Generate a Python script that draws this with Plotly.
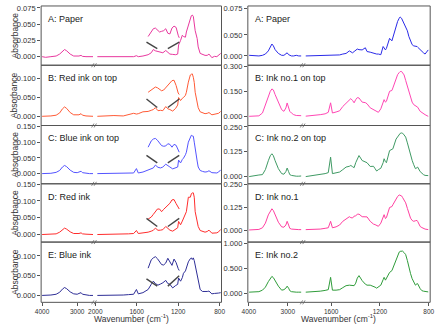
import plotly.graph_objects as go

W, H = 441, 330
FONT = "Liberation Sans, Arial, sans-serif"

# ---------------- data ----------------
# Left column, high-wavenumber segment
left_hi_wn = [4000, 3900, 3750, 3600, 3500, 3420, 3360, 3300, 3200, 3100, 3000, 2950, 2890, 2850, 2750, 2650, 2550]
left_a_hi = [0, -0.001, 0, 0.001, 0.004, 0.009, 0.011, 0.009, 0.004, 0.001, 0.0005, 0.001, 0.002, 0.0005, 0, -0.0005, 0]
left_b_hi = [0, 0, 0.001, 0.003, 0.009, 0.02, 0.025, 0.021, 0.01, 0.004, 0.003, 0.004, 0.007, 0.003, 0.001, 0, 0]
left_c_hi = [0, 0, 0.001, 0.004, 0.01, 0.021, 0.026, 0.022, 0.011, 0.004, 0.003, 0.005, 0.0075, 0.003, 0.001, 0, 0]
left_d_hi = [0, 0, 0.001, 0.002, 0.007, 0.015, 0.019, 0.016, 0.008, 0.003, 0.002, 0.003, 0.005, 0.002, 0.001, 0, 0]
left_e_hi = [0, 0, 0.001, 0.003, 0.008, 0.016, 0.02, 0.017, 0.009, 0.004, 0.003, 0.005, 0.007, 0.003, 0.001, 0, 0]

# Left column, low-wavenumber segment
left_lo_wn = [1980, 1900, 1820, 1730, 1680, 1630, 1603, 1585, 1540, 1490, 1460, 1440, 1420, 1395, 1370, 1348,
              1320, 1300, 1280, 1253, 1225, 1205, 1196, 1177, 1160, 1149, 1130, 1121, 1102, 1083, 1073, 1064,
              1054, 1045, 1036, 1017, 1007, 988, 965, 941, 920, 903, 875, 850, 827, 810, 790]
left_a_lo = [0, 0, 0.0005, 0, 0.0005, 0, 0.0015, 0, 0.001, 0.003, 0.006, 0.011, 0.009, 0.008, 0.007, 0.006,
             0.0095, 0.006, 0.004, 0.0035, 0.003, 0.004, 0.018, 0.025, 0.033, 0.031, 0.030, 0.038, 0.050, 0.058,
             0.063, 0.064, 0.062, 0.052, 0.040, 0.028, 0.015, 0.005, 0.003, 0.002, 0.002, 0.004, -0.0015, 0.0005,
             0, 0.002, 0.005]
left_b_lo = [0, 0.001, 0.002, 0.001, 0.004, 0.008, 0.006, 0.007, 0.012, 0.013, 0.016, 0.018, 0.023, 0.015, 0.016,
             0.015, 0.026, 0.02, 0.018, 0.014, 0.021, 0.03, 0.05, 0.042, 0.048, 0.05, 0.056, 0.064, 0.091, 0.11,
             0.112, 0.113, 0.104, 0.09, 0.064, 0.04, 0.023, 0.012, 0.009, 0.007, 0.008, 0.01, 0.004, 0.005, 0.006,
             0.008, 0.013]
left_c_lo = [0, 0, 0.001, 0.001, 0.002, 0.002, 0.016, 0.002, 0.005, 0.011, 0.015, 0.018, 0.027, 0.02, 0.018, 0.021,
             0.03, 0.024, 0.021, 0.015, 0.018, 0.021, 0.043, 0.034, 0.045, 0.049, 0.06, 0.068, 0.1, 0.115, 0.122,
             0.12, 0.119, 0.1, 0.075, 0.04, 0.021, 0.01, 0.007, 0.005, 0.006, 0.009, 0.003, 0.002, 0.002, 0.005,
             0.012]
left_d_lo = [0, 0, 0.001, 0.001, 0.002, 0.003, 0.012, 0.003, 0.004, 0.007, 0.01, 0.0125, 0.019, 0.0125, 0.013,
             0.0145, 0.024, 0.018, 0.013, 0.01, 0.015, 0.02, 0.039, 0.029, 0.04, 0.047, 0.058, 0.068, 0.111, 0.111,
             0.121, 0.124, 0.124, 0.111, 0.068, 0.04, 0.024, 0.012, 0.009, 0.007, 0.009, 0.013, 0.004, 0.005, 0.005,
             0.008, 0.015]
left_e_lo = [0, 0, 0.001, 0.001, 0.002, 0.003, 0.015, 0.004, 0.007, 0.015, 0.028, 0.036, 0.03, 0.026, 0.029, 0.032,
             0.038, 0.03, 0.028, 0.019, 0.025, 0.028, 0.044, 0.036, 0.045, 0.056, 0.062, 0.069, 0.085, 0.093, 0.095,
             0.091, 0.095, 0.088, 0.077, 0.05, 0.036, 0.015, 0.01, 0.009, 0.01, 0.011, 0.004, 0.005, 0.005, 0.006,
             0.007]

# Left column, magnified insets (1490-1190 cm-1) drawn above each spectrum
inset_wn = [1490, 1460, 1440, 1420, 1400, 1380, 1360, 1340, 1320, 1300, 1280, 1260, 1240, 1220, 1200, 1190]
inset_a = [0.031, 0.039, 0.043, 0.044, 0.041, 0.038, 0.039, 0.040, 0.043, 0.036, 0.035, 0.044, 0.047, 0.045, 0.033, 0.029]
inset_b = [0.064, 0.071, 0.075, 0.078, 0.076, 0.071, 0.068, 0.070, 0.077, 0.083, 0.090, 0.095, 0.096, 0.082, 0.062, 0.058]
inset_c = [0.084, 0.104, 0.110, 0.112, 0.106, 0.097, 0.089, 0.087, 0.088, 0.095, 0.093, 0.084, 0.093, 0.090, 0.076, 0.068]
inset_d = [0.046, 0.052, 0.060, 0.068, 0.076, 0.076, 0.068, 0.075, 0.081, 0.087, 0.093, 0.103, 0.104, 0.092, 0.080, 0.076]
inset_e = [0.069, 0.090, 0.095, 0.098, 0.093, 0.085, 0.078, 0.077, 0.082, 0.094, 0.083, 0.076, 0.092, 0.083, 0.068, 0.063]

# Connector marks (outer-high to inner-low, both sides of each inset)
conn_wn = [1506, 1402, None, 1300, 1190]
conn_a = [0.0225, 0.0123, None, 0.0123, 0.0225]
conn_b = [0.046, 0.0235, None, 0.0235, 0.046]
conn_c = [0.058, 0.034, None, 0.034, 0.058]
conn_d = [0.048, 0.024, None, 0.024, 0.048]
conn_e = [0.042, 0.0235, None, 0.0235, 0.050]

# Right column, high-wavenumber segment
right_hi_wn = [3992, 3900, 3800, 3742, 3650, 3575, 3500, 3450, 3408, 3370, 3325, 3242, 3158, 3100, 3050, 3017,
               2980, 2950, 2908, 2850, 2783, 2720, 2658]
right_a_hi = [0.001, 0.0005, 0.001, 0, 0.001, 0.003, 0.008, 0.014, 0.019, 0.016, 0.01, 0.004, 0.001, 0.001, 0.003,
              0.005, 0.002, 0.001, 0, 0, 0.001, 0, 0]
right_b_hi = [0, 0, 0.002, 0.003, 0.02, 0.069, 0.125, 0.15, 0.164, 0.158, 0.13, 0.08, 0.04, 0.03, 0.05, 0.08, 0.055,
              0.03, 0.02, 0.01, 0.005, 0.004, 0.004]
right_c_hi = [0, 0.002, 0.003, 0.008, 0.01, 0.035, 0.08, 0.105, 0.115, 0.105, 0.08, 0.04, 0.015, 0.012, 0.025, 0.043,
              0.025, 0.01, 0.006, 0.003, 0.002, 0.002, 0.003]
right_d_hi = [0.003, 0.004, 0.005, 0.006, 0.015, 0.04, 0.085, 0.108, 0.118, 0.108, 0.085, 0.045, 0.02, 0.018, 0.03,
              0.05, 0.03, 0.012, 0.008, 0.006, 0.005, 0.005, 0.005]
right_e_hi = [0.02, 0.02, 0.025, 0.03, 0.06, 0.12, 0.23, 0.3, 0.335, 0.31, 0.24, 0.14, 0.06, 0.07, 0.1, 0.14, 0.1,
              0.05, 0.03, 0.02, 0.02, 0.02, 0.02]

# Right column, low-wavenumber segment
right_lo_wn = [1809, 1750, 1690, 1650, 1624, 1605, 1590, 1560, 1531, 1505, 1478, 1451, 1439, 1425, 1412, 1399, 1386,
               1372, 1346, 1320, 1306, 1280, 1266, 1253, 1240, 1227, 1213, 1193, 1174, 1166, 1155, 1147, 1121, 1102,
               1094, 1068, 1055, 1042, 1034, 1023, 1015, 1002, 989, 975, 963, 949, 936, 923, 909, 896, 891, 870, 856,
               843, 830, 804]
right_a_lo = [0, 0.0005, 0.001, 0.0005, 0.001, 0.0016, 0.001, 0.001, 0.0016, 0.003, 0.004, 0.008, 0.007, 0.005, 0.007,
              0.009, 0.011, 0.01, 0.0096, 0.013, 0.007, 0.006, 0.005, 0.004, 0.004, 0.003, 0.003, 0.002, 0.015, 0.012,
              0.0096, 0.012, 0.028, 0.024, 0.03, 0.047, 0.055, 0.06, 0.062, 0.06, 0.057, 0.052, 0.047, 0.04, 0.031,
              0.024, 0.018, 0.016, 0.016, 0.015, 0.014, 0.0096, 0.007, 0.005, 0.003, 0.0096]
right_b_lo = [0.001, 0.004, 0.01, 0.015, 0.024, 0.081, 0.02, 0.026, 0.033, 0.059, 0.08, 0.095, 0.106, 0.095, 0.081,
              0.1, 0.112, 0.11, 0.085, 0.082, 0.075, 0.051, 0.045, 0.04, 0.033, 0.028, 0.024, 0.045, 0.08, 0.1, 0.085,
              0.09, 0.15, 0.155, 0.17, 0.219, 0.25, 0.262, 0.268, 0.269, 0.26, 0.248, 0.215, 0.18, 0.145, 0.108,
              0.085, 0.07, 0.065, 0.059, 0.055, 0.03, 0.022, 0.02, 0.01, 0.0]
right_c_lo = [0, 0.005, 0.01, 0.015, 0.02, 0.098, 0.015, 0.018, 0.023, 0.035, 0.048, 0.052, 0.056, 0.05, 0.045, 0.07,
              0.09, 0.106, 0.081, 0.075, 0.07, 0.051, 0.05, 0.052, 0.04, 0.028, 0.035, 0.042, 0.07, 0.09, 0.075, 0.07,
              0.131, 0.135, 0.14, 0.189, 0.2, 0.214, 0.218, 0.22, 0.219, 0.21, 0.199, 0.17, 0.139, 0.11, 0.082, 0.06,
              0.04, 0.045, 0.048, 0.025, 0.015, 0.01, 0.006, 0.005]
right_d_lo = [0.005, 0.006, 0.008, 0.012, 0.015, 0.05, 0.015, 0.02, 0.03, 0.05, 0.065, 0.075, 0.07, 0.068, 0.078,
              0.08, 0.088, 0.089, 0.075, 0.076, 0.074, 0.05, 0.04, 0.035, 0.032, 0.028, 0.023, 0.04, 0.07, 0.086,
              0.065, 0.07, 0.125, 0.13, 0.14, 0.174, 0.185, 0.193, 0.19, 0.188, 0.18, 0.168, 0.15, 0.12, 0.095, 0.067,
              0.055, 0.05, 0.053, 0.055, 0.05, 0.022, 0.016, 0.012, 0.008, 0.005]
right_e_lo = [0.02, 0.025, 0.04, 0.055, 0.07, 0.316, 0.06, 0.06, 0.07, 0.11, 0.15, 0.16, 0.16, 0.15, 0.15, 0.2, 0.3,
              0.35, 0.25, 0.18, 0.16, 0.16, 0.15, 0.14, 0.12, 0.1, 0.12, 0.16, 0.27, 0.316, 0.26, 0.3, 0.414, 0.45,
              0.5, 0.678, 0.76, 0.82, 0.835, 0.84, 0.84, 0.81, 0.77, 0.65, 0.51, 0.39, 0.29, 0.21, 0.16, 0.19, 0.19,
              0.09, 0.05, 0.04, 0.03, 0.025]

left_labels = ["A: Paper", "B: Red ink on top", "C: Blue ink on top", "D: Red ink", "E: Blue ink"]
right_labels = ["A: Paper", "B: Ink no.1 on top", "C: Ink no.2 on top", "D: Ink no.1", "E: Ink no.2"]

left_ytick_vals = [[0, 0.025, 0.05, 0.075], [0, 0.05, 0.1], [0, 0.05, 0.1, 0.15], [0, 0.05, 0.1, 0.15], [0, 0.05, 0.1]]
left_ytick_text = [["0.000", "0.025", "0.050", "0.075"], ["0.000", "0.050", "0.100"],
                   ["0.000", "0.050", "0.100", "0.150"], ["0.000", "0.050", "0.100", "0.150"],
                   ["0.000", "0.050", "0.100"]]
right_ytick_vals = [[0, 0.0335, 0.075], [0, 0.15, 0.3], [0, 0.125, 0.25], [0, 0.125, 0.25], [0, 0.5, 1.0]]
right_ytick_text = [["0.000", "0.050", "0.075"], ["0.000", "0.150", "0.300"], ["0.000", "0.125", "0.250"],
                    ["0.000", "0.125", "0.250"], ["0.000", "0.500", "1.000"]]

left_xticks_hi = [4000, 3000]
left_xticks_lo = [2000, 1600, 1200, 800]
right_xticks_hi = [4000, 3000]
right_xticks_lo = [1600, 1200, 800]

# ---------------- styling / layout ----------------
left_colors = ["#e8389e", "#ff5a36", "#5454ff", "#ff2d2d", "#2e2e96"]
right_colors = ["#2a2ae8", "#ff46b4", "#3f9a64", "#ff3fa0", "#2f9c3a"]
conn_color = "#454545"
frame_color = "#555555"

rows_px = [(2, 62), (62, 123), (123, 182), (182, 241), (241, 302)]
cols = [
    dict(hi_px=(35, 89), lo_px=(90, 220), hi_range=[4028, 2528], lo_range=[2005, 782],
         yranges=[[-0.0132, 0.078], [-0.0245, 0.136], [-0.0324, 0.153], [-0.0225, 0.151], [-0.0175, 0.135]],
         hi_wn=left_hi_wn, lo_wn=left_lo_wn,
         hi_vals=[left_a_hi, left_b_hi, left_c_hi, left_d_hi, left_e_hi],
         lo_vals=[left_a_lo, left_b_lo, left_c_lo, left_d_lo, left_e_lo],
         colors=left_colors, labels=left_labels, tv=left_ytick_vals, tt=left_ytick_text,
         xt_hi=left_xticks_hi, xt_lo=left_xticks_lo),
    dict(hi_px=(247, 303), lo_px=(304, 434), hi_range=[4025, 2625], lo_range=[1828, 788],
         yranges=[[-0.0148, 0.0795], [-0.055, 0.306], [-0.0363, 0.2575], [-0.0626, 0.2535], [-0.183, 1.02]],
         hi_wn=right_hi_wn, lo_wn=right_lo_wn,
         hi_vals=[right_a_hi, right_b_hi, right_c_hi, right_d_hi, right_e_hi],
         lo_vals=[right_a_lo, right_b_lo, right_c_lo, right_d_lo, right_e_lo],
         colors=right_colors, labels=right_labels, tv=right_ytick_vals, tt=right_ytick_text,
         xt_hi=right_xticks_hi, xt_lo=right_xticks_lo),
]
insets = [inset_a, inset_b, inset_c, inset_d, inset_e]
conns = [conn_a, conn_b, conn_c, conn_d, conn_e]


def px_x(v):
    return v / W


def px_y(v):
    return 1 - v / H


def nm(prefix, n):
    return prefix if n == 1 else f"{prefix}{n}"


fig = go.Figure()
layout = dict(width=W, height=H, margin=dict(l=0, r=0, t=0, b=0), showlegend=False,
              paper_bgcolor="white", plot_bgcolor="white",
              font=dict(family=FONT, size=7, color="#333"))
shapes, annotations = [], []

for c, col in enumerate(cols):
    for r in range(5):
        p = c * 5 + r
        yn = p + 1
        xh, xl = 2 * p + 1, 2 * p + 2
        top, bot = rows_px[r]
        ydom = [px_y(bot), px_y(top)]
        bottom_row = (r == 4)
        layout[nm("yaxis", yn)] = dict(
            domain=ydom, range=col["yranges"][r], anchor=nm("x", xh),
            tickvals=col["tv"][r], ticktext=col["tt"][r], ticks="outside", ticklen=3,
            tickcolor=frame_color, tickfont=dict(size=7.5, color="#333"),
            showgrid=False, zeroline=False, showline=False, fixedrange=True)
        for xn, key_px, key_rng, key_t in ((xh, "hi_px", "hi_range", "xt_hi"), (xl, "lo_px", "lo_range", "xt_lo")):
            a, b = col[key_px]
            ax = dict(domain=[px_x(a), px_x(b)], range=col[key_rng], anchor=nm("y", yn),
                      showgrid=False, zeroline=False, showline=False, fixedrange=True)
            if bottom_row:
                ax.update(tickvals=col[key_t], ticks="outside", ticklen=3, tickcolor=frame_color,
                          tickfont=dict(size=6.5, color="#333"))
            else:
                ax.update(showticklabels=False, ticks="")
            layout[nm("xaxis", xn)] = ax

        color = col["colors"][r]
        fig.add_trace(go.Scatter(x=col["hi_wn"], y=col["hi_vals"][r], mode="lines",
                                 line=dict(color=color, width=1), xaxis=nm("x", xh), yaxis=nm("y", yn)))
        fig.add_trace(go.Scatter(x=col["lo_wn"], y=col["lo_vals"][r], mode="lines",
                                 line=dict(color=color, width=1), xaxis=nm("x", xl), yaxis=nm("y", yn)))
        if c == 0:
            fig.add_trace(go.Scatter(x=inset_wn, y=insets[r], mode="lines",
                                     line=dict(color=color, width=1), xaxis=nm("x", xl), yaxis=nm("y", yn)))
            fig.add_trace(go.Scatter(x=conn_wn, y=conns[r], mode="lines", connectgaps=False,
                                     line=dict(color=conn_color, width=1.4), xaxis=nm("x", xl), yaxis=nm("y", yn)))

        # frame
        x0 = col["hi_px"][0]
        x1 = col["lo_px"][1]
        shapes.append(dict(type="rect", xref="paper", yref="paper", x0=px_x(x0), x1=px_x(x1),
                           y0=px_y(bot), y1=px_y(top), line=dict(color=frame_color, width=1), layer="above"))
        # axis-break mark (two short slashes across the lower frame edge)
        bx = col["hi_px"][1] + 0.5
        for dx in (-1.5, 1.0):
            shapes.append(dict(type="line", xref="paper", yref="paper",
                               x0=px_x(bx + dx - 1.2), y0=px_y(bot + 2.0),
                               x1=px_x(bx + dx + 1.2), y1=px_y(bot - 2.0),
                               line=dict(color="#666", width=0.8), layer="above"))
        # panel label
        annotations.append(dict(xref="paper", yref="paper", x=px_x(x0 + 5), y=px_y(top + 13),
                                text=col["labels"][r], showarrow=False, font=dict(size=9, color="#222"),
                                xanchor="left", yanchor="middle"))
        if c == 0:
            annotations.append(dict(xref="paper", yref="paper", x=px_x(8), y=px_y((top + bot) / 2),
                                    text="Absorbance", textangle=-90, showarrow=False,
                                    font=dict(size=8.5, color="#333"), xanchor="center", yanchor="middle"))

# x-axis titles
annotations.append(dict(xref="paper", yref="paper", x=px_x(128), y=px_y(318),
                        text="Wavenumber (cm<sup>-1</sup>)", showarrow=False,
                        font=dict(size=8.5, color="#333"), xanchor="center", yanchor="middle"))
annotations.append(dict(xref="paper", yref="paper", x=px_x(340), y=px_y(318),
                        text="Wavenumber (cm<sup>-1</sup>)", showarrow=False,
                        font=dict(size=8.5, color="#333"), xanchor="center", yanchor="middle"))

layout["shapes"] = shapes
layout["annotations"] = annotations
fig.update_layout(**layout)
fig.write_html("out.html")
